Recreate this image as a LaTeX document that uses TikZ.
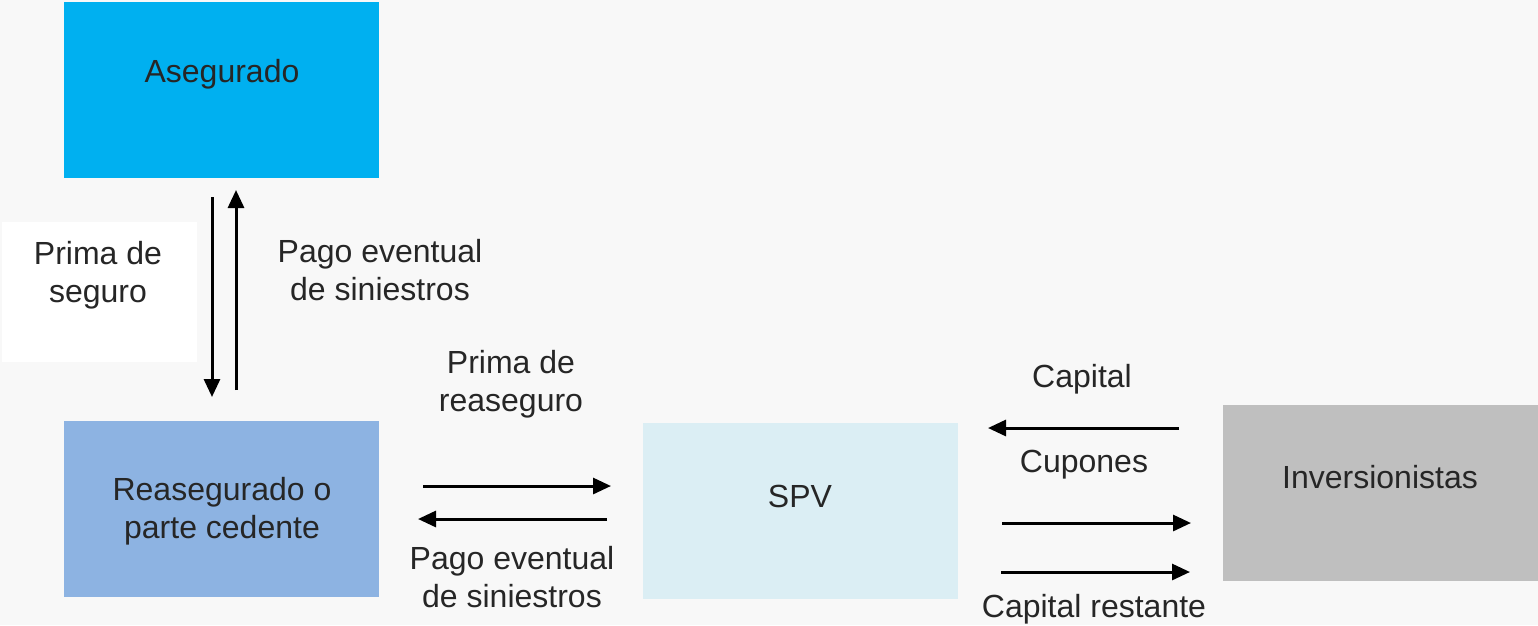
\documentclass[tikz,border=0pt]{standalone}
\usepackage{fontspec}
\setmainfont{Liberation Sans}
\usetikzlibrary{arrows.meta}
\definecolor{bg}{HTML}{F8F8F8}
\definecolor{txt}{HTML}{262626}
\definecolor{cAse}{HTML}{00B0F0}
\definecolor{cRea}{HTML}{8DB3E2}
\definecolor{cSpv}{HTML}{DBEEF4}
\definecolor{cInv}{HTML}{BFBFBF}
\tikzset{
  box/.style={draw=none, minimum width=315pt, minimum height=176pt, inner sep=0pt},
  lbl/.style={text=txt, align=center, inner sep=0pt, font=\fontsize{32}{38}\selectfont},
  flow/.style={line width=3pt, -{Triangle[length=18pt,width=16pt]}}
}
\begin{document}
\begin{tikzpicture}[x=1pt,y=-1pt]
\fill[bg] (0,0) rectangle (1538,625);
\useasboundingbox (0,0) rectangle (1538,625);
\fill[white] (2,222) rectangle (197,362);
\node[box, fill=cAse] (ase) at (221.5,90) {};
\node[box, fill=cRea] (rea) at (221.5,508.5) {};
\node[box, fill=cSpv] (spv) at (800.5,510.5) {};
\node[box, fill=cInv] (inv) at (1380.5,493) {};
\node[lbl] (tase) at (222,74) {Asegurado};
\node[lbl] (trea) at (222,511) {Reasegurado o\\parte cedente};
\node[lbl] (tspv) at (800,496) {SPV};
\node[lbl] (tinv) at (1380,477) {Inversionistas};
% labels
\node[lbl] (l1) at (98,275) {Prima de\\seguro};
\node[lbl] (l2) at (380,270) {Pago eventual\\de siniestros};
\node[lbl] (l3) at (511,384) {Prima de\\reaseguro};
\node[lbl] (l4) at (512,577) {Pago eventual\\de siniestros};
\node[lbl] (l5) at (1082,379) {Capital};
\node[lbl] (l6) at (1084,465) {Cupones};
\node[lbl] (l7) at (1094,609) {Capital restante};
% arrow endpoints
\coordinate (a1s) at (212,197); \coordinate (a1e) at (212,397);
\coordinate (a2s) at (236,390); \coordinate (a2e) at (236,190);
\coordinate (a3s) at (423,486); \coordinate (a3e) at (611,486);
\coordinate (a4s) at (607,519); \coordinate (a4e) at (418,519);
\coordinate (a5s) at (1179,428); \coordinate (a5e) at (988,428);
\coordinate (a6s) at (1002,523); \coordinate (a6e) at (1191,523);
\coordinate (a7s) at (1001,572); \coordinate (a7e) at (1190,572);
\draw[flow] (a1s) -- (a1e);
\draw[flow] (a2s) -- (a2e);
\draw[flow] (a3s) -- (a3e);
\draw[flow] (a4s) -- (a4e);
\draw[flow] (a5s) -- (a5e);
\draw[flow] (a6s) -- (a6e);
\draw[flow] (a7s) -- (a7e);
\end{tikzpicture}
\end{document}
